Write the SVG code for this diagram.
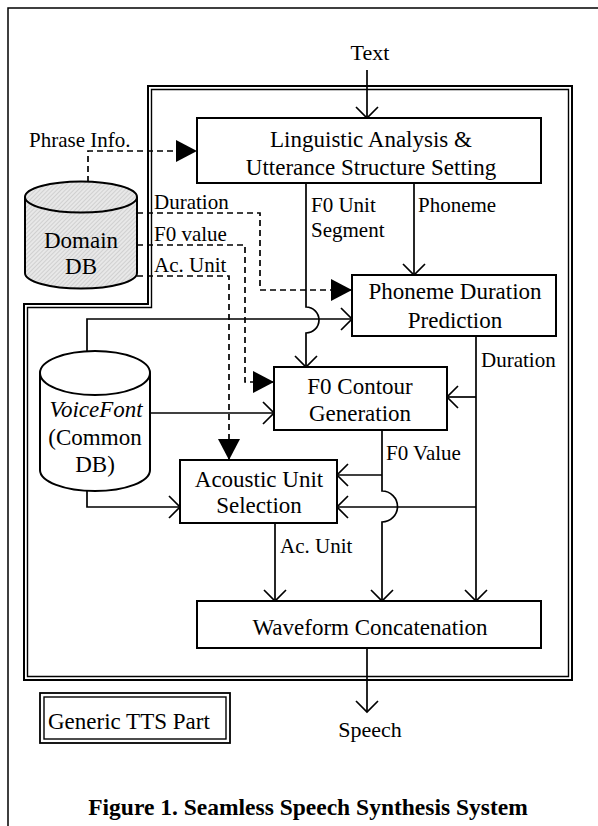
<svg xmlns="http://www.w3.org/2000/svg" width="598" height="826" viewBox="0 0 598 826">
<style>
text{font-family:"Liberation Serif","Times New Roman",serif;fill:#000}
.bt{font-size:23px;text-anchor:middle}
.lb{font-size:21px}
.io{font-size:22px;text-anchor:middle}
.box{fill:#fff;stroke:#000;stroke-width:2}
.ln{fill:none;stroke:#000;stroke-width:1.7}
.dash{fill:none;stroke:#000;stroke-width:1.7;stroke-dasharray:6 4}
.frame{fill:none;stroke:#000}
</style>
<defs>
<pattern id="hatch" width="3" height="3" patternUnits="userSpaceOnUse" patternTransform="rotate(45)">
<rect width="3" height="3" fill="#e8e8e8"/>
<line x1="0" y1="0" x2="0" y2="3" stroke="#b4b4b4" stroke-width="0.9"/>
</pattern>
<marker id="open" markerUnits="userSpaceOnUse" markerWidth="30" markerHeight="30" viewBox="-15 -15 30 30" refX="0" refY="0" orient="auto">
<path d="M-11,-11 L0,0 L-11,11" fill="none" stroke="#000" stroke-width="1.7"/>
</marker>
<marker id="fill" markerUnits="userSpaceOnUse" markerWidth="30" markerHeight="30" viewBox="-25 -15 30 30" refX="0" refY="0" orient="auto">
<path d="M-21,-11 L0,0 L-21,11 Z" fill="#000"/>
</marker>
</defs>
<rect x="0" y="0" width="598" height="826" fill="#fff"/>
<rect class="frame" x="8" y="8" width="620" height="840" stroke-width="1.5"/>

<g id="generic-tts-region">
<path class="frame" stroke-width="2" d="M148,86 H572 V680 H24 V304 H148 Z"/>
<path class="frame" stroke-width="1.4" d="M151.5,89.5 H568.5 V676.5 H27.5 V307.5 H151.5 Z"/>
</g>

<g id="connectors">
<path class="ln" d="M367,70 V118" marker-end="url(#open)"/>
<path class="dash" d="M88,182 V151 H197" marker-end="url(#fill)"/>
<path class="dash" d="M137,213 H260 V290 H352" marker-end="url(#fill)"/>
<path class="dash" d="M137,245 H245 V382 H274" marker-end="url(#fill)"/>
<path class="dash" d="M137,276 H229 V460" marker-end="url(#fill)"/>
<path class="ln" d="M414,183 V275" marker-end="url(#open)"/>
<path class="ln" d="M306,183 V307 A13,13 0 0 1 306,333 V367" marker-end="url(#open)"/>
<path class="ln" d="M87,351 V319 H352" marker-end="url(#open)"/>
<path class="ln" d="M150,413 H274" marker-end="url(#open)"/>
<path class="ln" d="M87,491 V507 H180" marker-end="url(#open)"/>
<path class="ln" d="M476,336 V601" marker-end="url(#open)"/>
<path class="ln" d="M476,397 H447" marker-end="url(#open)"/>
<path class="ln" d="M476,507 H337" marker-end="url(#open)"/>
<path class="ln" d="M382,430 V491 A15.5,15.5 0 0 1 382,522 V601" marker-end="url(#open)"/>
<path class="ln" d="M382,475 H337" marker-end="url(#open)"/>
<path class="ln" d="M275,523 V601" marker-end="url(#open)"/>
<path class="ln" d="M367,648 V712" marker-end="url(#open)"/>
</g>

<g id="labels">
<text class="io" x="370" y="60">Text</text>
<text class="lb" x="29" y="147">Phrase Info.</text>
<text class="lb" x="154" y="209">Duration</text>
<text class="lb" x="154" y="241">F0 value</text>
<text class="lb" x="154" y="272">Ac. Unit</text>
<text class="lb" x="311" y="212">F0 Unit</text>
<text class="lb" x="311" y="237">Segment</text>
<text class="lb" x="418" y="212">Phoneme</text>
<text class="lb" x="481" y="367">Duration</text>
<text class="lb" x="386" y="460">F0 Value</text>
<text class="lb" x="280" y="553">Ac. Unit</text>
<text class="io" x="370" y="737">Speech</text>
</g>

<g id="domain-db">
<path d="M25,197 A56,15.5 0 0 1 137,197 V273 A56,15.5 0 0 1 25,273 Z" fill="url(#hatch)" stroke="#000" stroke-width="2"/>
<path d="M25,197 A56,15.5 0 0 0 137,197" fill="none" stroke="#000" stroke-width="2"/>
<text class="bt" x="81" y="248">Domain</text>
<text class="bt" x="81" y="274">DB</text>
</g>

<g id="voicefont-db">
<path d="M40,373 A55,22 0 0 1 150,373 V470 A55,21 0 0 1 40,470 Z" fill="#fff" stroke="#000" stroke-width="2"/>
<path d="M40,373 A55,22 0 0 0 150,373" fill="none" stroke="#000" stroke-width="2"/>
<text class="bt" x="96" y="417" font-style="italic">VoiceFont</text>
<text class="bt" x="95" y="445">(Common</text>
<text class="bt" x="95" y="472">DB)</text>
</g>

<g id="linguistic-analysis">
<rect class="box" x="197" y="118" width="344" height="65"/>
<text class="bt" x="371" y="147">Linguistic Analysis &amp;</text>
<text class="bt" x="371" y="175">Utterance Structure Setting</text>
</g>

<g id="phoneme-duration">
<rect class="box" x="352" y="275" width="204" height="61"/>
<text class="bt" x="455" y="299">Phoneme Duration</text>
<text class="bt" x="455" y="328">Prediction</text>
</g>

<g id="f0-contour">
<rect class="box" x="274" y="367" width="173" height="63"/>
<text class="bt" x="360" y="394">F0 Contour</text>
<text class="bt" x="360" y="421">Generation</text>
</g>

<g id="acoustic-unit">
<rect class="box" x="180" y="460" width="157" height="63"/>
<text class="bt" x="259" y="487">Acoustic Unit</text>
<text class="bt" x="259" y="513">Selection</text>
</g>

<g id="waveform">
<rect class="box" x="197" y="601" width="344" height="47"/>
<text class="bt" x="370" y="635">Waveform Concatenation</text>
</g>

<g id="legend">
<rect class="frame" x="40" y="693" width="190" height="50" stroke-width="1.8"/>
<rect class="frame" x="44" y="697" width="182" height="42" stroke-width="1.4"/>
<text x="48" y="729" font-size="23">Generic TTS Part</text>
</g>

<text x="308" y="815" font-size="23.5" font-weight="bold" text-anchor="middle">Figure 1. Seamless Speech Synthesis System</text>
</svg>
